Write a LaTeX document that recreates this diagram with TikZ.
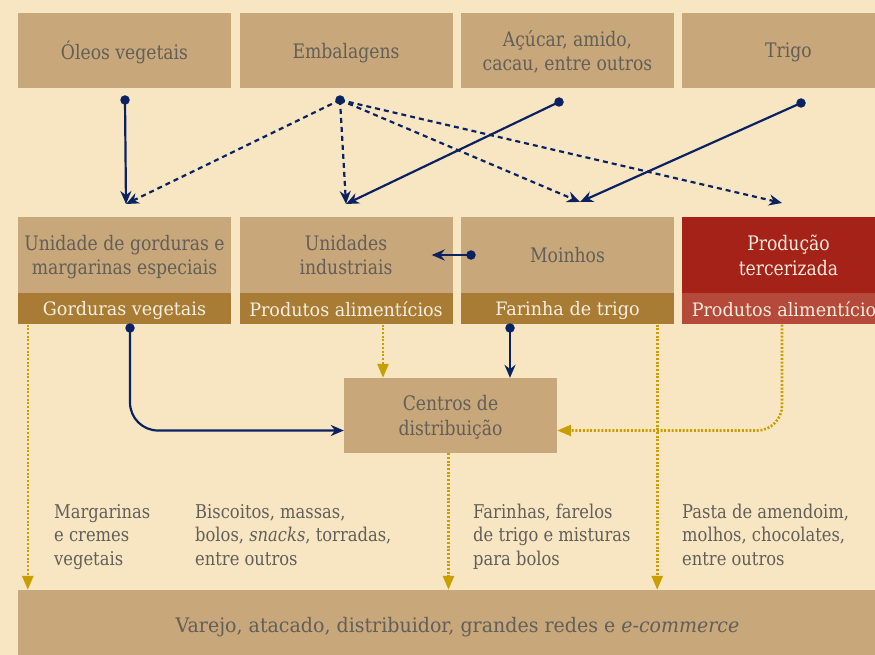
\documentclass[tikz,border=0pt]{standalone}
\usepackage{fontspec}
\setmainfont{DejaVu Serif}[FakeStretch=0.86]
\newfontfamily\faixafont{DejaVu Serif}[FakeStretch=0.95]
\usetikzlibrary{arrows.meta,positioning}
\definecolor{fundo}{HTML}{F8E6C3}
\definecolor{bege}{HTML}{C8A87A}
\definecolor{ocre}{HTML}{A87C34}
\definecolor{vermelho}{HTML}{A52218}
\definecolor{telha}{HTML}{B64A3A}
\definecolor{azul}{HTML}{0A2262}
\definecolor{dourado}{HTML}{C89E00}
\definecolor{cinza}{HTML}{625E58}
\definecolor{creme}{HTML}{F8EEDF}
\tikzset{
  caixa/.style={fill=bege, text=cinza, minimum width=213pt, minimum height=75pt,
    inner sep=0pt, align=center, text depth=0pt, font=\fontsize{20}{24.5}\selectfont},
  faixa/.style={fill=ocre, text=creme, minimum width=213pt, minimum height=31pt,
    inner sep=0pt, text depth=0pt, font=\faixafont\fontsize{18.5}{20}\selectfont},
  nota/.style={text=cinza, inner sep=0pt, align=left, font=\fontsize{19}{23.5}\selectfont},
  ponto/.style={circle, fill=azul, inner sep=0pt, minimum size=9.5pt},
  fluxo/.style={draw=azul, line width=2.2pt, -{Stealth[length=13pt,width=11pt]}},
  tracejado/.style={fluxo, dash pattern=on 5pt off 4pt},
  pontilhado/.style={draw=dourado, line width=2.6pt, dash pattern=on 2pt off 1.7pt,
    -{Triangle[length=14pt,width=11pt]}},
}
\def\unidade#1#2#3#4#5#6{
  % 1: nome
  % 2: x
  % 3: texto da caixa
  % 4: texto da faixa
  % 5: estilo da caixa
  % 6: estilo da faixa
  \node[caixa, minimum height=76pt, #5] (#1) at (#2,255) {#3};
  \node[faixa, below=0pt of #1, #6] (#1faixa) {#4};
}

\begin{document}
\begin{tikzpicture}[x=1pt, y=-1pt]
  \useasboundingbox[fill=fundo] (0,0) rectangle (875,655);
  % fornecedores
  \node[caixa] (oleos)  at (124.5,50.5) {Óleos vegetais};
  \node[caixa] (embal)  at (346,50.5)   {Embalagens};
  \node[caixa] (acucar) at (567.5,50.5) {Açúcar, amido,\\cacau, entre outros};
  \node[caixa] (trigo)  at (788.5,50.5) {Trigo};
  % \unidade{nome}{x}{texto}{faixa}{caixa}{faixa}
  \unidade{gord}{124.5}{Unidade de gorduras e\\margarinas especiais}{Gorduras vegetais}{}{}
  \unidade{unid}{346}{Unidades\\industriais}{Produtos alimentícios}{}{}
  \unidade{moin}{567.5}{Moinhos}{Farinha de trigo}{}{}
  \unidade{terc}{788.5}{Produção\\tercerizada}{Produtos alimentícios}{fill=vermelho,text=creme}{fill=telha}
  \node[caixa, minimum width=213pt] (centros) at (450.5,415.5) {Centros de\\distribuição};
  \node[caixa, minimum width=879pt, minimum height=70pt, font=\faixafont\fontsize{20}{24}\selectfont]
    (varejo) at (457.5,625)
    {Varejo, atacado, distribuidor, grandes redes e \textit{e-commerce}};
  % notas (ancoradas na linha de base da ultima linha)
  \node[nota, anchor=base west] (nmarg) at (54,565) {Margarinas\\e cremes\\vegetais};
  \node[nota, anchor=base west] (nbisc) at (195,565) {Biscoitos, massas,\\bolos, \textit{snacks}, torradas,\\entre outros};
  \node[nota, anchor=base west] (nfar)  at (473,565) {Farinhas, farelos\\de trigo e misturas\\para bolos};
  \node[nota, anchor=base west] (npast) at (682,565) {Pasta de amendoim,\\molhos, chocolates,\\entre outros};
  % pontos
  \node[ponto] (doleos)  at (125,100) {};
  \node[ponto] (dembal)  at (340,100) {};
  \node[ponto] (dacucar) at (559,102) {};
  \node[ponto] (dtrigo)  at (801,103) {};
  \node[ponto] (dmoin)   at (471,255) {};
  \node[ponto] (dgord)   at (130,328) {};
  \node[ponto] (dfar)    at (510,328) {};
  \coordinate (agord) at (126,204);
  \coordinate (aunid) at (346,204);
  \coordinate (amoin) at (580,202);
  \coordinate (aterc) at (782,203);
  % setas azuis
  \draw[fluxo] (doleos.center) -- (agord);
  \draw[fluxo] (dacucar.center) -- (aunid);
  \draw[fluxo] (dtrigo.center) -- (amoin);
  \foreach \alvo in {agord,aunid,amoin,aterc}
    \draw[tracejado] (dembal.center) -- (\alvo);
  \draw[fluxo] (dmoin.center) -- ([xshift=-21pt]unid.east);
  \draw[fluxo, rounded corners=28pt] (dgord.center) |- ([yshift=-15pt]centros.west);
  \draw[fluxo] (dfar.center) -- (dfar.center |- centros.north);
  % setas douradas
  \path ([xshift=10pt]gordfaixa.south west) coordinate (g1)
        ([xshift=37pt]unidfaixa.south) coordinate (g2)
        ([xshift=-2pt]centros.south) coordinate (g3)
        ([xshift=-17pt]moinfaixa.south east) coordinate (g4)
        ([xshift=-6.5pt]tercfaixa.south) coordinate (g5);
  \draw[pontilhado] (g1) -- (g1 |- varejo.north);
  \draw[pontilhado] (g2) -- (g2 |- centros.north);
  \draw[pontilhado] (g3) -- (g3 |- varejo.north);
  \draw[pontilhado] (g4) -- (g4 |- varejo.north);
  \draw[pontilhado, rounded corners=25pt] (g5) |- ([yshift=-15pt]centros.east);
\end{tikzpicture}
\end{document}
